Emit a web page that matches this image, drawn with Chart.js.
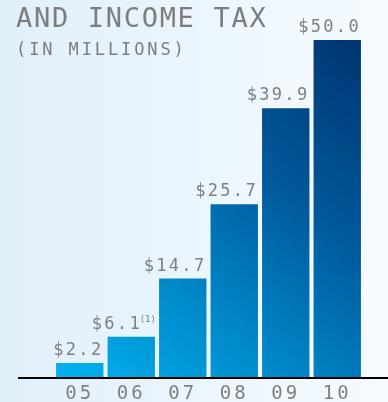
<!DOCTYPE html>
<html>
<head>
<meta charset="utf-8">
<script src="https://cdn.jsdelivr.net/npm/chart.js@4/dist/chart.umd.min.js"></script>
<style>
  html, body { margin: 0; padding: 0; }
  body {
    width: 388px; height: 402px; overflow: hidden; position: relative;
    background: linear-gradient(to right, #dfeffa 0%, #ecf6fd 55%, #f5fbff 100%);
    font-family: "DejaVu Sans Mono", monospace;
    color: #7d7d7d;
  }
  #wrap { position: absolute; left: 0; top: 0; width: 388px; height: 402px; }
  .head { position: absolute; left: 16px; margin: 0; font-weight: normal; white-space: nowrap; }
  #title { top: 4px; font-size: 27px; line-height: 27px; letter-spacing: 1.7px; }
  #sub { top: 41px; font-size: 17px; line-height: 17px; letter-spacing: 2.9px; }
</style>
</head>
<body>
<div id="wrap"><canvas id="taxChart" width="388" height="402"></canvas></div>
<h1 class="head" id="title">AND INCOME TAX</h1>
<h2 class="head" id="sub">(IN MILLIONS)</h2>
<script>
// fiscal years and tax amounts ($ millions)
const years = ['05', '06', '07', '08', '09', '10'];
const taxes = [2.2, 6.1, 14.7, 25.7, 39.9, 50.0];
const valueLabels = ['$2.2', '$6.1', '$14.7', '$25.7', '$39.9', '$50.0'];
const footnotes = ['', '(1)', '', '', '', ''];

const grey = '#7f7f7f';
const mono = '"DejaVu Sans Mono", monospace';

// diagonal blue ramp over the plot area
function barFill(context) {
    const area = context.chart.chartArea;
    if (!area) return '#0077b8';
    const g = context.chart.ctx.createLinearGradient(area.left, area.bottom, area.right, area.top);
    g.addColorStop(0, '#00b3f2');
    g.addColorStop(0.3, '#0089c9');
    g.addColorStop(0.6, '#00599b');
    g.addColorStop(1, '#002d67');
    return g;
}

const spacing = {
    id: 'spacing',
    beforeDraw(chart) {
        chart.ctx.letterSpacing = '3px';
    }
};

const valueTags = {
    id: 'valueTags',
    afterDatasetsDraw(chart) {
        const ctx = chart.ctx;
        const bars = chart.getDatasetMeta(0).data;
        ctx.save();
        ctx.fillStyle = grey;
        ctx.textBaseline = 'alphabetic';
        ctx.textAlign = 'right';
        bars.forEach((bar, i) => {
            const right = bar.x + bar.width / 2;
            const y = bar.y - 8;
            ctx.font = '17px ' + mono;
            ctx.letterSpacing = '2.3px';
            if (footnotes[i]) {
                ctx.fillText(valueLabels[i], right - 13, y);
                ctx.font = '9px ' + mono;
                ctx.letterSpacing = '0px';
                ctx.fillText(footnotes[i], right + 1, y - 7);
            } else {
                ctx.fillText(valueLabels[i], right, y);
            }
        });
        ctx.restore();
    },
    afterDraw(chart) {
        // black baseline running under the bars
        const ctx = chart.ctx;
        const y0 = chart.scales.y.getPixelForValue(0);
        ctx.save();
        ctx.fillStyle = '#000';
        ctx.fillRect(18, y0 - 1, chart.width - 18, 2);
        ctx.restore();
    }
};

new Chart(document.getElementById('taxChart'), {
    type: 'bar',
    data: {
        labels: years,
        datasets: [{
            data: taxes,
            backgroundColor: barFill,
            borderWidth: 0,
            barPercentage: 0.92,
            categoryPercentage: 1
        }]
    },
    options: {
        responsive: false,
        animation: false,
        layout: { padding: { left: 54, right: 25, top: 0, bottom: 0 } },
        plugins: { legend: { display: false }, tooltip: { enabled: false } },
        scales: {
            x: {
                grid: { display: false, drawTicks: false },
                border: { display: false },
                ticks: { color: grey, padding: 5, font: { family: mono, size: 19 } },
                afterFit(scale) { scale.height = 24; }
            },
            y: {
                display: false,
                min: 0,
                max: 55.9
            }
        }
    },
    plugins: [spacing, valueTags]
});
</script>
</body>
</html>
